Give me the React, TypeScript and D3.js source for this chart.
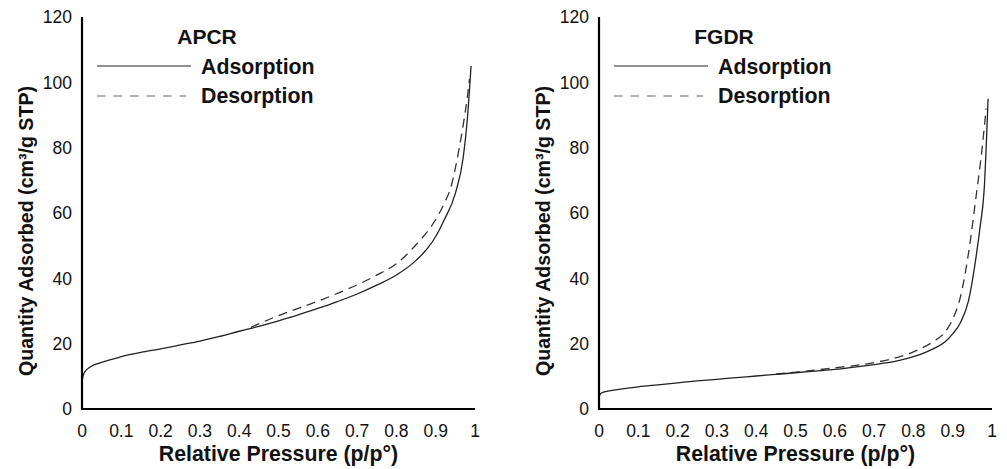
import React from "react";
import * as d3 from "d3";

// relative pressure (p/p°) and quantity adsorbed (cm³/g STP)
const apcrAdsP = [0, 0.003, 0.008, 0.02, 0.05, 0.1, 0.15, 0.2, 0.25, 0.3, 0.35, 0.4, 0.45, 0.5, 0.55, 0.6, 0.65, 0.7, 0.75, 0.8, 0.85, 0.88, 0.9, 0.92, 0.95, 0.97, 0.98, 0.99];
const apcrAdsQ = [8.5, 10.3, 11.5, 12.8, 14.3, 16, 17.3, 18.4, 19.6, 20.8, 22.2, 23.8, 25.3, 27, 28.8, 30.8, 32.9, 35.2, 37.9, 41, 45.5, 49.3, 52.8, 57.5, 66, 77, 88, 105];
const apcrDesP = [0.43, 0.5, 0.55, 0.6, 0.65, 0.7, 0.75, 0.8, 0.85, 0.88, 0.9, 0.92, 0.94, 0.96, 0.97, 0.98, 0.986];
const apcrDesQ = [25, 28.6, 30.8, 33, 35.4, 38, 41, 44.5, 50.3, 54.5, 58, 62.5, 68.5, 80, 87, 95, 101];

const fgdrAdsP = [0, 0.003, 0.008, 0.02, 0.05, 0.1, 0.15, 0.2, 0.25, 0.3, 0.35, 0.4, 0.45, 0.5, 0.55, 0.6, 0.65, 0.7, 0.75, 0.8, 0.85, 0.88, 0.9, 0.92, 0.94, 0.96, 0.97, 0.98, 0.99];
const fgdrAdsQ = [3.8, 4.5, 5, 5.4, 6, 6.8, 7.4, 8, 8.6, 9.1, 9.6, 10.1, 10.6, 11.1, 11.6, 12.1, 12.8, 13.6, 14.5, 16, 18.4, 20.5, 23, 26.5, 33, 47, 56, 67, 95];
const fgdrDesP = [0.45, 0.5, 0.55, 0.6, 0.65, 0.7, 0.75, 0.8, 0.85, 0.88, 0.9, 0.92, 0.94, 0.96, 0.975, 0.985];
const fgdrDesQ = [10.7, 11.3, 11.9, 12.6, 13.3, 14.2, 15.5, 17.5, 20.6, 23.5, 27.5, 34.5, 47.5, 65.5, 80, 92];

const xTicks = [0, 0.1, 0.2, 0.3, 0.4, 0.5, 0.6, 0.7, 0.8, 0.9, 1];
const yTicks = [0, 20, 40, 60, 80, 100, 120];

const font = "'Liberation Sans', Arial, sans-serif";

type PanelProps = {
  name: string;
  left: number;
  adsP: number[];
  adsQ: number[];
  desP: number[];
  desQ: number[];
};

const Panel = ({ name, left, adsP, adsQ, desP, desQ }: PanelProps) => {
  const x = d3.scaleLinear().domain([0, 1]).range([left, left + 393]);
  const y = d3.scaleLinear().domain([0, 120]).range([409, 17]);

  const line = d3
    .line<[number, number]>()
    .x((d) => x(d[0]))
    .y((d) => y(d[1]))
    .curve(d3.curveMonotoneX);

  const ads = line(adsP.map((p, i) => [p, adsQ[i]]) as [number, number][]);
  const des = line(desP.map((p, i) => [p, desQ[i]]) as [number, number][]);

  const fmt = (d: number) => String(+d.toFixed(1));

  return (
    <g fontFamily={font}>
      <path d={des || ""} fill="none" stroke="#333" strokeWidth={1.3} strokeDasharray="9 6" />
      <path d={ads || ""} fill="none" stroke="#222" strokeWidth={1.3} />

      <line x1={x(0)} x2={x(0)} y1={y(120)} y2={y(0)} stroke="#000" strokeWidth={2.2} />
      <line x1={x(0) - 1} x2={x(1)} y1={y(0)} y2={y(0)} stroke="#000" strokeWidth={2.2} />

      {yTicks.map((t) => (
        <text key={t} x={x(0) - 10} y={y(t)} dy="0.36em" textAnchor="end" fontSize={17.5} fill="#111">
          {t}
        </text>
      ))}
      {xTicks.map((t) => (
        <text key={t} x={x(t)} y={437} textAnchor="middle" fontSize={17.5} fill="#111">
          {fmt(t)}
        </text>
      ))}

      <text x={(x(0) + x(1)) / 2} y={461} textAnchor="middle" fontSize={21.3} fontWeight="bold" fill="#111">
        Relative Pressure (p/p°)
      </text>
      <text
        transform={`translate(${left - 49},${231}) rotate(-90)`}
        textAnchor="middle"
        fontSize={21}
        fontWeight="bold"
        fill="#111"
        textLength={290}
        lengthAdjust="spacingAndGlyphs"
      >
        Quantity Adsorbed (cm³/g STP)
      </text>

      <text x={left + 125} y={44} textAnchor="middle" fontSize={21} fontWeight="bold" fill="#111">
        {name}
      </text>
      <line x1={left + 15} x2={left + 109} y1={66} y2={66} stroke="#222" strokeWidth={1.2} />
      <text x={left + 119} y={74} fontSize={21.3} fontWeight="bold" fill="#111">
        Adsorption
      </text>
      <line x1={left + 15} x2={left + 104} y1={96} y2={96} stroke="#666" strokeWidth={1.2} strokeDasharray="8.5 8" />
      <text x={left + 119} y={103} fontSize={21.3} fontWeight="bold" fill="#111">
        Desorption
      </text>
    </g>
  );
};

export default function App() {
  return (
    <svg
      width={1007}
      height={469}
      style={{ position: "absolute", left: 0, top: 0, background: "#fff" }}
    >
      <Panel name="APCR" left={82} adsP={apcrAdsP} adsQ={apcrAdsQ} desP={apcrDesP} desQ={apcrDesQ} />
      <Panel name="FGDR" left={599} adsP={fgdrAdsP} adsQ={fgdrAdsQ} desP={fgdrDesP} desQ={fgdrDesQ} />
    </svg>
  );
}
